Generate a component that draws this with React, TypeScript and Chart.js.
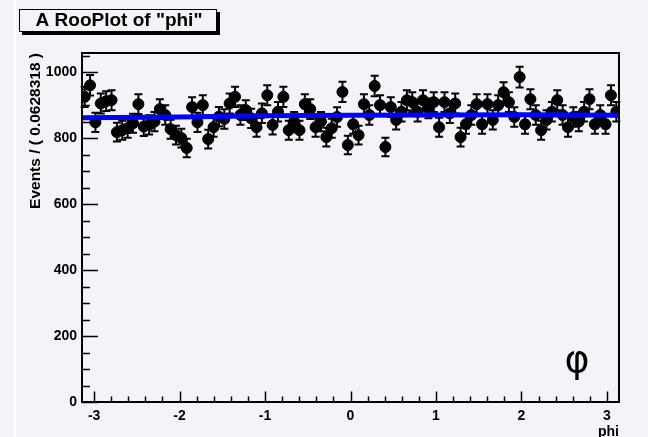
import { useEffect, useRef } from "react";
import { Chart, registerables } from "chart.js";

Chart.register(...registerables);

// ---- data ----
const X_MIN = -Math.PI;
const X_MAX = Math.PI;
const Y_MAX = 1058;

// event counts in each of the 100 bins of phi
const counts = [
  925, 960, 848, 905, 912, 915, 818, 824, 830, 845,
  903, 835, 840, 850, 888, 870, 827, 809, 800, 770,
  894, 848, 900, 797, 833, 865, 858, 905, 925, 870,
  885, 860, 833, 875, 930, 840, 880, 925, 824, 850,
  824, 903, 888, 833, 850, 803, 830, 864, 940, 779,
  842, 809, 903, 870, 958, 900, 773, 894, 855, 880,
  915, 909, 880, 915, 890, 909, 833, 909, 875, 905,
  803, 842, 870, 903, 842, 903, 855, 900, 939, 909,
  864, 985, 842, 918, 870, 824, 855, 880, 915, 870,
  833, 864, 850, 880, 918, 842, 870, 842, 930, 880,
];

// fitted pdf curve
const fitX = [-3.14159, -2, -1, 0, 1, 2, 3.14159];
const fitY = [862, 864, 868, 869, 870, 871, 869];

const xTickValues = [-3, -2, -1, 0, 1, 2, 3];
const yTickValues = [0, 200, 400, 600, 800, 1000];

const plotTitle = 'A RooPlot of "phi"';
const yTitle = "Events / ( 0.0628318 )";
const xTitle = "phi";
const annotation = "φ";

const BG = "#f5f3f7";
const FONT = "'Liberation Sans', Arial, Helvetica, sans-serif";

export default function App() {
  const ref = useRef<HTMLCanvasElement>(null);

  useEffect(() => {
    document.body.style.margin = "0";
    document.body.style.background = BG;
    const canvas = ref.current!;
    const binWidth = (X_MAX - X_MIN) / counts.length;
    const points = counts.map((v, i) => ({ x: X_MIN + (i + 0.5) * binWidth, y: v }));
    const errors = counts.map((v) => Math.sqrt(v));
    const fitPoints = fitX.map((x, i) => ({ x, y: fitY[i] }));

    const rooPlugin = {
      id: "rooFrame",
      beforeDraw(chart: any) {
        const ctx = chart.ctx;
        ctx.save();
        ctx.fillStyle = BG;
        ctx.fillRect(0, 0, chart.width, chart.height);
        ctx.fillStyle = "#ffffff";
        ctx.fillRect(14, 0, 2, chart.height);
        ctx.restore();
      },
      beforeDatasetsDraw(chart: any) {
        const ctx = chart.ctx;
        const xs = chart.scales.x;
        const ys = chart.scales.y;
        ctx.save();
        ctx.strokeStyle = "#000";
        ctx.lineWidth = 2;
        points.forEach((p, i) => {
          const px = xs.getPixelForValue(p.x);
          const pTop = ys.getPixelForValue(p.y + errors[i]);
          const pBot = ys.getPixelForValue(p.y - errors[i]);
          ctx.beginPath();
          ctx.moveTo(px, pTop);
          ctx.lineTo(px, pBot);
          ctx.moveTo(px - 4, pTop);
          ctx.lineTo(px + 4, pTop);
          ctx.moveTo(px - 4, pBot);
          ctx.lineTo(px + 4, pBot);
          ctx.stroke();
        });
        ctx.restore();
      },
      afterDraw(chart: any) {
        const ctx = chart.ctx;
        const { left, right, top, bottom } = chart.chartArea;
        const xs = chart.scales.x;
        const ys = chart.scales.y;
        ctx.save();
        // frame
        ctx.strokeStyle = "#000";
        ctx.lineWidth = 2;
        ctx.strokeRect(left, top, right - left, bottom - top);
        // y ticks
        ctx.lineWidth = 1.5;
        ctx.beginPath();
        for (let v = 0; v <= Y_MAX; v += 50) {
          const py = Math.round(ys.getPixelForValue(v)) + 0.5;
          const len = v % 200 === 0 ? 16 : 8;
          ctx.moveTo(left, py);
          ctx.lineTo(left + len, py);
        }
        // x ticks
        for (let k = -15; k <= 15; k++) {
          const v = k * 0.2;
          if (v < X_MIN || v > X_MAX) continue;
          const px = Math.round(xs.getPixelForValue(v)) + 0.5;
          const len = k % 5 === 0 ? 10.5 : 5.5;
          ctx.moveTo(px, bottom);
          ctx.lineTo(px, bottom - len);
        }
        ctx.stroke();

        // title box with shadow
        ctx.fillStyle = "#000";
        ctx.fillRect(22, 12, 198, 23);
        ctx.fillStyle = BG;
        ctx.fillRect(19, 9, 198, 23);
        ctx.lineWidth = 1;
        ctx.strokeStyle = "#000";
        ctx.strokeRect(19.5, 9.5, 197, 22);
        ctx.fillStyle = "#000";
        ctx.font = `bold 19px ${FONT}`;
        ctx.textAlign = "center";
        ctx.textBaseline = "middle";
        ctx.fillText(plotTitle, 119, 21);

        // phi annotation
        ctx.font = `38px 'DejaVu Sans', sans-serif`;
        ctx.fillText(annotation, 577, 362);
        ctx.restore();
      },
    };

    const chart = new Chart(canvas, {
      type: "scatter",
      data: {
        datasets: [
          {
            type: "line",
            data: fitPoints,
            borderColor: "#0000ff",
            borderWidth: 5,
            pointRadius: 0,
            tension: 0,
            order: 0,
          } as any,
          {
            type: "scatter",
            data: points,
            backgroundColor: "#000",
            borderColor: "#000",
            pointRadius: 5.5,
            order: 1,
          } as any,
        ],
      },
      options: {
        animation: false,
        responsive: false,
        layout: { padding: { left: 0, top: 53, right: 29, bottom: 0 } },
        plugins: { legend: { display: false }, tooltip: { enabled: false } },
        scales: {
          x: {
            type: "linear",
            min: X_MIN,
            max: X_MAX,
            grid: { display: false, drawTicks: false },
            border: { display: false },
            afterBuildTicks: (s: any) => {
              s.ticks = xTickValues.map((value) => ({ value }));
            },
            afterFit: (s: any) => {
              s.height = 35;
            },
            ticks: {
              font: { family: FONT, weight: "bold", size: 14 },
              color: "#000",
              padding: 6,
              maxRotation: 0,
              autoSkip: false,
              callback: (v: any) => String(v),
            },
            title: {
              display: true,
              text: xTitle,
              align: "end",
              color: "#000",
              font: { family: FONT, weight: "bold", size: 14 },
              padding: { top: 0, bottom: -4 },
            },
          },
          y: {
            type: "linear",
            min: 0,
            max: Y_MAX,
            grid: { display: false, drawTicks: false },
            border: { display: false },
            afterBuildTicks: (s: any) => {
              s.ticks = yTickValues.map((value) => ({ value }));
            },
            afterFit: (s: any) => {
              s.width = 82;
            },
            ticks: {
              font: { family: FONT, weight: "bold", size: 14 },
              color: "#000",
              padding: 5,
              callback: (v: any) => String(v),
            },
            title: {
              display: true,
              text: yTitle,
              align: "end",
              color: "#000",
              font: { family: FONT, weight: "bold", size: 15.5 },
              padding: { top: 26, bottom: 0 },
            },
          },
        },
      } as any,
      plugins: [rooPlugin],
    });
    return () => chart.destroy();
  }, []);

  return <canvas ref={ref} width={648} height={437} style={{ display: "block" }} />;
}
